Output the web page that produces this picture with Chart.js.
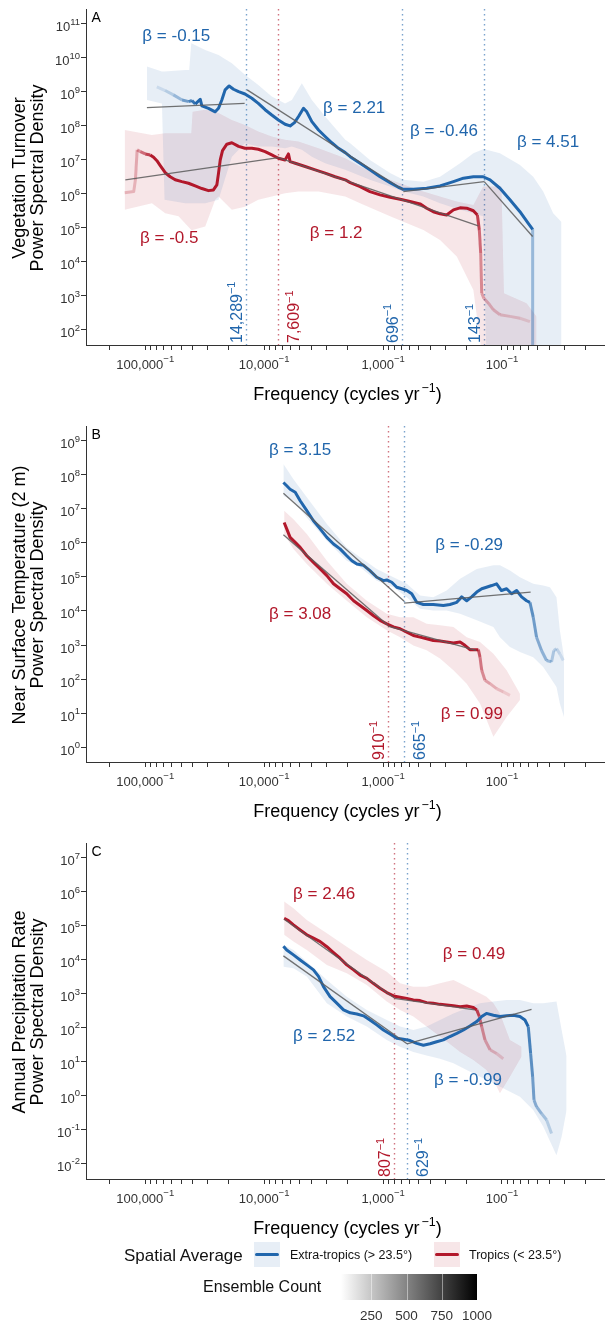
<!DOCTYPE html>
<html>
<head>
<meta charset="utf-8">
<script src="https://cdn.jsdelivr.net/npm/chart.js@4.4.1/dist/chart.umd.min.js"></script>
<style>
  body { margin: 0; background: #fff; width: 605px; height: 1322px; position: relative; overflow: hidden;
         font-family: "Liberation Sans", Arial, Helvetica, sans-serif; }
  canvas { position: absolute; left: 0; }
  .lg { position: absolute; white-space: nowrap; line-height: 1; color: #111; }
  .key { position: absolute; width: 26px; height: 25px; }
  .key i { position: absolute; left: 1px; top: 11px; width: 24px; height: 3px; border-radius: 1.5px; }
  .num { position: absolute; width: 40px; text-align: center; font-size: 13.5px; line-height: 1; color: #333; }
</style>
</head>
<body>
<canvas id="panelA" width="605" height="417" style="top:0px"></canvas>
<canvas id="panelB" width="605" height="417" style="top:417px"></canvas>
<canvas id="panelC" width="605" height="417" style="top:834px"></canvas>

<div class="lg" style="left:124px; top:1246.7px; font-size:17px">Spatial Average</div>
<div class="key" style="left:254px; top:1242px; background:rgba(33,102,172,0.11)"><i style="background:#2166ac"></i></div>
<div class="lg" style="left:290px; top:1249px; font-size:12.5px">Extra-tropics (&gt; 23.5°)</div>
<div class="key" style="left:434px; top:1242px; background:rgba(178,24,43,0.11)"><i style="background:#b2182b"></i></div>
<div class="lg" style="left:469px; top:1249px; font-size:12.5px">Tropics (&lt; 23.5°)</div>
<div class="lg" style="left:203px; top:1279.2px; font-size:16px">Ensemble Count</div>
<div id="bar" style="position:absolute; left:341px; top:1274px; width:136px; height:26px; background:linear-gradient(to right, #fff, #000)"></div>
<div id="barLabels"></div>

<script>
// ---------- shared x axis: period in years, plotted as frequency = 1 / period ----------
const xLimPeriods = [315000, 13.6];
const xTickPeriods = [200000, 100000, 90000, 80000, 70000, 60000, 50000, 40000, 30000, 20000,
  10000, 9000, 8000, 7000, 6000, 5000, 4000, 3000, 2000,
  1000, 900, 800, 700, 600, 500, 400, 300, 200,
  100, 90, 80, 70, 60, 50, 40, 30, 20];
const xLabelPeriods = [100000, 10000, 1000, 100];
const xLabelText = ["100,000", "10,000", "1,000", "100"];

// ---------- panel A: vegetation turnover ----------
const aYLim = [36, 2.75e11];
const aYExp = [2, 3, 4, 5, 6, 7, 8, 9, 10, 11];

const aBluePeriod = [80000, 68000, 58000, 49000, 43000, 40500, 38000, 34500, 33400, 29400,
  25800, 24200, 22700, 21300, 19700, 18100, 16400, 14500, 12700, 11200,
  9820, 8630, 7590, 6670, 6050, 5560, 5140, 4670, 4380, 3970,
  3490, 3070, 2700, 2370, 2080, 1890, 1560, 1290, 1060, 873,
  743, 675, 556, 430, 332, 256, 211, 174, 144, 126,
  104, 85.7, 70.6, 60.1, 55.2, 55.2];
const aBluePSD = [1.4e9, 1.1e9, 8.2e8, 5.8e8, 5.2e8, 5.6e8, 4.4e8, 6.1e8, 3.9e8, 3.3e8,
  2.6e8, 3.3e8, 5.8e8, 1.15e9, 1.5e9, 1.2e9, 1.02e9, 8.7e8, 6.5e8, 4.6e8,
  3.0e8, 2.1e8, 1.5e8, 1.12e8, 1.0e8, 1.25e8, 1.9e8, 3.3e8, 2.6e8, 1.34e8,
  7.6e7, 4.9e7, 3.2e7, 2.2e7, 1.64e7, 1.25e7, 8.0e6, 5.1e6, 3.2e6, 2.15e6,
  1.57e6, 1.37e6, 1.37e6, 1.47e6, 1.72e6, 2.3e6, 2.9e6, 3.2e6, 3.2e6, 2.6e6,
  1.47e6, 6.7e5, 3.0e5, 1.37e5, 9.1e4, 10];
const aBlueCount = [150, 250, 400, 600, 800, 900, 1000, 1000, 1000, 1000,
  1000, 1000, 1000, 1000, 1000, 1000, 1000, 1000, 1000, 1000,
  1000, 1000, 1000, 1000, 1000, 1000, 1000, 1000, 1000, 1000,
  1000, 1000, 1000, 1000, 1000, 1000, 1000, 1000, 1000, 1000,
  1000, 1000, 1000, 1000, 1000, 1000, 1000, 1000, 1000, 1000,
  1000, 1000, 1000, 1000, 1000, 400];

const aRedPeriod = [149000, 125000, 121000, 117000, 110000, 100000, 90800, 85100, 79800, 74800,
  67900, 61700, 56000, 49200, 43300, 38000, 33400, 29400, 26700, 25000,
  24200, 23400, 22400, 20600, 18700, 16400, 14500, 12700, 11200, 9820,
  8630, 7590, 6670, 6250, 6050, 5480, 4520, 3720, 3070, 2530,
  2080, 1890, 1560, 1290, 1060, 873, 719, 593, 489, 430,
  378, 332, 292, 256, 225, 198, 174, 161, 155, 151,
  148, 142, 130, 118, 104, 85.7, 70.6, 58.2];
const aRedPSD = [1.09e6, 1.17e6, 2.6e6, 1.97e7, 1.76e7, 1.5e7, 1.4e7, 1.2e7, 9.5e6, 6.8e6,
  4.2e6, 3.2e6, 2.6e6, 2.3e6, 2.06e6, 1.72e6, 1.44e6, 1.25e6, 1.31e6, 1.84e6,
  4.1e6, 1.0e7, 1.88e7, 2.9e7, 3.2e7, 2.5e7, 2.2e7, 2.2e7, 2.06e7, 1.76e7,
  1.4e7, 1.12e7, 1.0e7, 1.5e7, 8.9e6, 8.0e6, 6.4e6, 5.1e6, 4.1e6, 3.2e6,
  2.6e6, 2.15e6, 1.64e6, 1.17e6, 9.4e5, 8.0e5, 7.0e5, 6.0e5, 5.1e5, 3.8e5,
  3.0e5, 2.6e5, 2.4e5, 3.4e5, 3.9e5, 3.8e5, 3.2e5, 2.4e5, 8.7e4, 1.8e4,
  1.2e3, 8.5e2, 6.1e2, 3.9e2, 2.8e2, 2.5e2, 2.2e2, 1.76e2];
const aRedCount = [250, 250, 300, 400, 600, 800, 1000, 1000, 1000, 1000,
  1000, 1000, 1000, 1000, 1000, 1000, 1000, 1000, 1000, 1000,
  1000, 1000, 1000, 1000, 1000, 1000, 1000, 1000, 1000, 1000,
  1000, 1000, 1000, 1000, 1000, 1000, 1000, 1000, 1000, 1000,
  1000, 1000, 1000, 1000, 1000, 1000, 1000, 1000, 1000, 1000,
  1000, 1000, 1000, 1000, 1000, 1000, 1000, 1000, 800, 600,
  450, 350, 300, 280, 250, 220, 200, 150];

const aBlueRibPeriod = [96800, 72400, 68800, 46100, 42700, 41000, 31300, 24200, 18700, 14500,
  11200, 8630, 6670, 5850, 4820, 3970, 3070, 2080, 1890, 1290,
  873, 675, 458, 332, 225, 174, 144, 135, 104, 70.6,
  54.6, 45.0, 37.1, 31.6];
const aBlueRibHigh = [5.6e9, 4.0e9, 4.0e9, 4.4e9, 4.4e9, 2.7e10, 1.7e10, 1.22e10, 7.0e9, 3.2e9,
  1.6e9, 7.3e8, 4.6e8, 5.8e8, 1.8e9, 5.8e8, 1.9e8, 3.9e7, 3.1e7, 1.0e7,
  4.1e6, 2.6e6, 2.3e6, 3.2e6, 8.0e6, 1.57e7, 2.06e7, 2.0e7, 1.57e7, 7.1e6,
  3.2e6, 1.17e6, 2.7e5, 1.5e5];
const aBlueRibLow = [5.8e8, 4.6e8, 6.7e5, 5.3e5, 5.3e5, 5.3e5, 5.3e5, 6.7e5, 1.25e7, 3.1e7,
  2.5e7, 2.5e7, 2.2e7, 2.5e7, 2.0e7, 1.25e7, 8.0e6, 5.1e6, 4.5e6, 2.6e6,
  1.64e6, 1.17e6, 8.4e5, 5.3e5, 3.4e5, 2.7e5, 2.2e5, 10, 10, 10,
  10, 10, 10, 10];

const aRedRibPeriod = [149000, 87900, 67900, 52500, 41000, 40000, 31300, 25800, 24200, 18700,
  14500, 11200, 8630, 6670, 5140, 3490, 2080, 1560, 873, 458,
  332, 240, 174, 144, 101, 96.2, 62.1, 51.2];
const aRedRibHigh = [7.6e7, 5.4e7, 6.1e7, 6.1e7, 6.1e7, 2.6e8, 3.0e8, 2.6e8, 2.4e8, 1.5e8,
  1.07e8, 6.8e7, 4.9e7, 3.9e7, 3.5e7, 2.2e7, 1.12e7, 6.4e6, 2.6e6, 1.17e6,
  8.4e5, 6.0e5, 4.7e5, 1.64e6, 1.64e6, 1.2e3, 6.1e2, 2.5e2];
const aRedRibLow = [3.4e5, 5.3e5, 2.7e5, 2.2e5, 8.7e4, 8.7e4, 1.1e5, 6.7e5, 8.4e5, 3.4e5,
  4.2e5, 6.7e5, 8.4e5, 1.05e6, 1.17e6, 1.17e6, 8.4e5, 5.3e5, 2.2e5, 8.7e4,
  4.4e4, 1.44e4, 1.5e3, 10, 10, 10, 10, 10];

const aBlueFitPeriod = [[96800, 14600], [13900, 675], [675, 141], [141, 55.2]];
const aBlueFitPSD = [[3.46e8, 4.6e8], [1.15e9, 1.31e6], [1.17e6, 2.3e6], [2.3e6, 5.6e4]];
const aRedFitPeriod = [[147000, 7590], [7590, 158]];
const aRedFitPSD = [[2.6e6, 1.17e7], [1.17e7, 1.15e5]];

const aBreakPeriod = [14289, 7609, 696, 143];
const aBreakSeries = ["blue", "red", "blue", "blue"];

const aBetaText = ["β = -0.15", "β = 2.21", "β = -0.46", "β = 4.51", "β = -0.5", "β = 1.2"];
const aBetaPeriod = [54800, 1750, 307, 41, 62800, 2480];
const aBetaPSD = [4.7e10, 3.6e8, 7.6e7, 3.6e7, 5.4e4, 7.6e4];
const aBetaSeries = ["blue", "blue", "blue", "blue", "red", "red"];

// ---------- panel B: near surface temperature ----------
const bYLim = [0.363, 2.75e9];
const bYExp = [0, 1, 2, 3, 4, 5, 6, 7, 8, 9];

const bBluePeriod = [6890, 6460, 6050, 5480, 4980, 4380, 3850, 3380, 2970, 2610,
  2300, 2020, 1830, 1660, 1460, 1290, 1130, 993, 931, 845,
  767, 697, 632, 574, 521, 458, 378, 311, 274, 240,
  218, 198, 180, 163, 148, 135, 122, 111, 101, 91.4,
  83.0, 75.3, 68.4, 62.1, 58.2, 54.6, 51.2, 46.5, 42.2, 38.3,
  36.6, 34.8, 32.6, 30.5];
const bBluePSD = [6.0e7, 4.8e7, 3.8e7, 3.1e7, 1.74e7, 8.9e6, 4.5e6, 2.6e6, 1.46e6, 9.3e5,
  6.7e5, 4.2e5, 3.0e5, 2.4e5, 2.2e5, 1.54e5, 9.8e4, 7.8e4, 8.2e4, 7.0e4,
  5.0e4, 4.5e4, 4.0e4, 3.2e4, 1.8e4, 1.55e4, 1.55e4, 1.45e4, 1.55e4, 1.8e4,
  2.6e4, 2.0e4, 2.6e4, 3.6e4, 4.5e4, 5.0e4, 5.6e4, 6.3e4, 4.0e4, 4.5e4,
  3.2e4, 4.0e4, 2.6e4, 2.0e4, 1.8e4, 6.6e3, 1.7e3, 6.9e2, 3.5e2, 3.2e2,
  6.9e2, 7.8e2, 5.5e2, 3.5e2];
const bBlueCount = [1000, 1000, 1000, 1000, 1000, 1000, 1000, 1000, 1000, 1000,
  1000, 1000, 1000, 1000, 1000, 1000, 1000, 1000, 1000, 1000,
  1000, 1000, 1000, 1000, 1000, 1000, 1000, 1000, 1000, 1000,
  1000, 1000, 1000, 1000, 1000, 1000, 1000, 1000, 1000, 1000,
  1000, 1000, 1000, 1000, 1000, 700, 600, 500, 450, 400,
  300, 250, 200, 150];

const bRedPeriod = [6790, 6460, 6050, 5480, 4980, 4380, 3850, 3380, 2970, 2610,
  2300, 2020, 1770, 1560, 1370, 1210, 1060, 931, 818, 719,
  632, 556, 489, 430, 378, 332, 292, 256, 225, 205,
  186, 169, 158, 153, 148, 139, 126, 111, 97.5, 85.7];
const bRedPSD = [4.0e6, 2.6e6, 1.46e6, 1.04e6, 7.4e5, 4.2e5, 2.7e5, 1.73e5, 1.1e5, 6.3e4,
  4.5e4, 3.2e4, 2.0e4, 1.45e4, 1.03e4, 7.4e3, 5.3e3, 4.2e3, 3.4e3, 3.0e3,
  2.4e3, 1.9e3, 1.7e3, 1.53e3, 1.36e3, 1.31e3, 1.22e3, 1.14e3, 1.22e3, 9.8e2,
  7.3e2, 7.3e2, 7.3e2, 4.4e2, 1.8e2, 92, 73, 52, 42, 33];
const bRedCount = [1000, 1000, 1000, 1000, 1000, 1000, 1000, 1000, 1000, 1000,
  1000, 1000, 1000, 1000, 1000, 1000, 1000, 1000, 1000, 1000,
  1000, 1000, 1000, 1000, 1000, 1000, 1000, 1000, 1000, 1000,
  1000, 1000, 1000, 700, 550, 450, 350, 280, 220, 150];

const bBlueRibPeriod = [6890, 5670, 4380, 2970, 2020, 1560, 1130, 818, 632, 489,
  378, 292, 225, 163, 118, 104, 85.7, 70.6, 54.6, 45.0,
  39.5, 34.8, 32.6, 30.1];
const bBlueRibHigh = [2.1e8, 7.5e7, 2.2e7, 3.6e6, 7.4e5, 3.8e5, 1.73e5, 9.8e4, 6.3e4, 2.85e4,
  2.55e4, 4.0e4, 8.8e4, 1.73e5, 2.2e5, 2.2e5, 1.54e5, 9.8e4, 6.3e4, 5.6e4,
  5.0e4, 2.55e4, 2.7e3, 4.4e2];
const bBlueRibLow = [2.4e7, 1.74e7, 5.6e6, 1.17e6, 3.0e5, 1.93e5, 7.8e4, 5.0e4, 2.55e4, 1.16e4,
  1.03e4, 1.03e4, 8.3e3, 5.3e3, 3.4e3, 1.7e3, 8.7e2, 6.2e2, 4.4e2, 2.25e2,
  1.15e2, 58, 19, 7.7];

const bRedRibPeriod = [6790, 5670, 4380, 2970, 2020, 1370, 931, 719, 556, 430,
  332, 256, 198, 153, 118, 91.4, 70.6];
const bRedRibHigh = [8.9e6, 5.0e6, 1.83e6, 3.0e5, 6.3e4, 2.0e4, 8.3e3, 6.6e3, 6.6e3, 4.2e3,
  3.8e3, 3.4e3, 1.7e3, 1.22e3, 5.5e2, 1.8e2, 37];
const bRedRibLow = [1.83e6, 6.7e5, 2.4e5, 6.3e4, 2.0e4, 6.6e3, 2.7e3, 1.7e3, 9.7e2, 7.0e2,
  4.0e2, 1.8e2, 73, 19, 2.0, 7.7, 24];

const bBlueFitPeriod = [[6890, 665], [665, 57.4]];
const bBlueFitPSD = [[2.9e7, 1.94e4], [1.7e4, 3.6e4]];
const bRedFitPeriod = [[6890, 910], [910, 165]];
const bRedFitPSD = [[1.75e6, 3.8e3], [3.6e3, 6.9e2]];

const bBreakPeriod = [910, 665];
const bBreakSeries = ["red", "blue"];

const bBetaText = ["β = 3.15", "β = -0.29", "β = 3.08", "β = 0.99"];
const bBetaPeriod = [4980, 189, 4980, 179];
const bBetaPSD = [5.8e8, 9.5e5, 8.5e3, 9.9];
const bBetaSeries = ["blue", "blue", "red", "red"];

// ---------- panel C: annual precipitation rate ----------
const cYLim = [0.0034, 2.75e7];
const cYExp = [-2, -1, 0, 1, 2, 3, 4, 5, 6, 7];

const cBluePeriod = [6890, 6460, 5670, 4980, 4380, 3850, 3490, 3170, 2790, 2450,
  2150, 1890, 1660, 1460, 1290, 1130, 993, 873, 767, 675,
  593, 521, 458, 403, 354, 311, 274, 240, 211, 186,
  163, 148, 135, 118, 104, 91.4, 80.4, 70.6, 64.1, 60.1,
  57.4, 55.2, 53.8, 51.2, 46.5, 42.2, 38.3];
const cBluePSD = [2.5e4, 1.93e4, 1.38e4, 9.8e3, 7.0e3, 5.0e3, 3.2e3, 1.6e3, 8.1e2, 5.2e2,
  3.3e2, 2.7e2, 2.5e2, 2.2e2, 1.66e2, 1.19e2, 84, 64, 48, 45,
  41, 34, 30, 33, 38, 43, 54, 67, 84, 1.1e2,
  1.49e2, 2.1e2, 2.6e2, 2.3e2, 2.1e2, 2.2e2, 2.3e2, 2.1e2, 1.66e2, 1.06e2,
  17, 3.5, 0.73, 0.46, 0.29, 0.19, 0.075];
const cBlueCount = [1000, 1000, 1000, 1000, 1000, 1000, 1000, 1000, 1000, 1000,
  1000, 1000, 1000, 1000, 1000, 1000, 1000, 1000, 1000, 1000,
  1000, 1000, 1000, 1000, 1000, 1000, 1000, 1000, 1000, 1000,
  1000, 1000, 1000, 1000, 1000, 1000, 1000, 1000, 1000, 1000,
  800, 700, 600, 500, 450, 350, 250];

const cRedPeriod = [6790, 6250, 5670, 4980, 4380, 3850, 3380, 2970, 2610, 2300,
  2020, 1770, 1560, 1370, 1210, 1060, 931, 818, 719, 632,
  556, 489, 430, 378, 332, 292, 256, 225, 198, 174,
  163, 155, 148, 139, 126, 111, 97.5];
const cRedPSD = [1.66e5, 1.42e5, 1.06e5, 7.5e4, 5.4e4, 4.3e4, 3.4e4, 2.4e4, 1.61e4, 1.1e4,
  7.0e3, 5.0e3, 3.5e3, 2.8e3, 2.0e3, 1.43e3, 1.07e3, 8.5e2, 7.8e2, 7.2e2,
  6.5e2, 6.2e2, 5.4e2, 5.2e2, 4.8e2, 4.6e2, 4.4e2, 4.1e2, 4.3e2, 3.9e2,
  3.3e2, 2.1e2, 1.06e2, 43, 22, 17, 12];
const cRedCount = [1000, 1000, 1000, 1000, 1000, 1000, 1000, 1000, 1000, 1000,
  1000, 1000, 1000, 1000, 1000, 1000, 1000, 1000, 1000, 1000,
  1000, 1000, 1000, 1000, 1000, 1000, 1000, 1000, 1000, 1000,
  1000, 800, 600, 450, 350, 250, 180];

const cBlueRibPeriod = [6890, 5670, 4380, 2970, 2020, 1370, 931, 719, 556, 430,
  332, 256, 198, 153, 118, 91.4, 70.6, 54.6, 45.0, 34.8,
  31.5, 28.6];
const cBlueRibHigh = [2.7e4, 1.93e4, 8.7e3, 2.5e3, 8.1e2, 3.3e2, 1.66e2, 1.06e2, 84, 1.06e2,
  1.66e2, 2.6e2, 3.7e2, 5.2e2, 5.8e2, 6.5e2, 6.5e2, 5.2e2, 5.2e2, 5.8e2,
  84, 14];
const cBlueRibLow = [6.2e3, 5.6e3, 3.2e3, 5.2e2, 2.1e2, 1.06e2, 43, 27, 19, 15,
  12, 8.8, 5.6, 3.5, 2.25, 1.43, 0.91, 0.37, 0.12, 0.017,
  0.060, 0.37];

const cRedRibPeriod = [6790, 5670, 4380, 2970, 2020, 1370, 931, 719, 556, 430,
  332, 256, 225, 174, 135, 118, 104, 85.7, 68.4];
const cRedRibHigh = [5.2e5, 3.3e5, 1.48e5, 6.0e4, 2.4e4, 9.8e3, 4.4e3, 2.0e3, 1.6e3, 1.6e3,
  2.0e3, 2.5e3, 2.0e3, 1.28e3, 8.1e2, 5.2e2, 2.6e2, 43, 27];
const cRedRibLow = [5.4e4, 3.4e4, 1.93e4, 7.0e3, 4.0e3, 1.8e3, 5.8e2, 3.3e2, 2.1e2, 1.06e2,
  54, 27, 19, 11, 5.6, 2.8, 1.14, 3.5, 14];

const cBlueFitPeriod = [[6890, 629], [629, 56.4]];
const cBlueFitPSD = [[1.29e4, 33], [33, 3.4e2]];
const cRedFitPeriod = [[6790, 807], [807, 169]];
const cRedFitPSD = [[1.55e5, 7.5e2], [7.2e2, 3.3e2]];

const cBreakPeriod = [807, 629];
const cBreakSeries = ["red", "blue"];

const cBetaText = ["β = 2.46", "β = 0.49", "β = 2.52", "β = -0.99"];
const cBetaPeriod = [3130, 172, 3130, 193];
const cBetaPSD = [9.3e5, 1.58e4, 60, 3.0];
const cBetaSeries = ["red", "red", "blue", "blue"];

// ---------- legend colour bar ----------
const countTicks = [250, 500, 750, 1000];

// ---------- drawing ----------
const HUE = { blue: "33,102,172", red: "178,24,43" };
const FONT = '"Liberation Sans", Arial, Helvetica, sans-serif';
const AXIS = "#333";

function rgba(rgb, a) { return "rgba(" + rgb + "," + a + ")"; }
function pts(periods, values) { return periods.map((p, i) => ({ x: 1 / p, y: values[i] })); }

function lineSet(periods, values, counts, rgb, order) {
  return {
    data: pts(periods, values),
    borderColor: rgba(rgb, 1),
    borderWidth: 3,
    borderJoinStyle: "round",
    pointRadius: 0,
    order: order,
    segment: {
      borderColor: c => rgba(rgb, Math.max(0.15, Math.min(counts[c.p0DataIndex], counts[c.p1DataIndex]) / 1000))
    }
  };
}

function ribbonSets(periods, low, high, rgb) {
  return [
    { data: pts(periods, high), borderWidth: 0, pointRadius: 0, fill: "+1", backgroundColor: rgba(rgb, 0.11), order: 3 },
    { data: pts(periods, low), borderWidth: 0, pointRadius: 0, fill: false, order: 3 }
  ];
}

function fitSets(periodPairs, valuePairs) {
  return periodPairs.map((pp, i) => ({
    data: pts(pp, valuePairs[i]),
    borderColor: "rgba(90,90,90,0.85)",
    borderWidth: 1.3,
    pointRadius: 0,
    order: 0
  }));
}

// base text followed by a raised superscript (and optional tail); returns width
function drawSup(ctx, base, sup, tail, x, y, size, supSize, rise, gap) {
  ctx.font = size + "px " + FONT;
  ctx.fillText(base, x, y);
  let w = ctx.measureText(base).width + (gap || 0);
  ctx.font = supSize + "px " + FONT;
  ctx.fillText(sup, x + w, y - rise);
  w += ctx.measureText(sup).width;
  if (tail) {
    ctx.font = size + "px " + FONT;
    ctx.fillText(tail, x + w, y);
    w += ctx.measureText(tail).width;
  }
  return w;
}
function supWidth(ctx, base, sup, tail, size, supSize, gap) {
  ctx.font = size + "px " + FONT;
  const w = ctx.measureText(base + (tail || "")).width + (gap || 0);
  ctx.font = supSize + "px " + FONT;
  return w + ctx.measureText(sup).width;
}

function panelText(cfg) {
  return {
    id: "panelText",
    beforeDatasetsDraw(chart) {
      const { ctx, chartArea: a, scales: { x } } = chart;
      ctx.save();
      ctx.lineWidth = 1.4;
      ctx.setLineDash([1.4, 3.6]);
      cfg.breaks.forEach((p, i) => {
        const px = Math.round(x.getPixelForValue(1 / p)) + 0.5;
        ctx.strokeStyle = rgba(HUE[cfg.breakSeries[i]], 0.6);
        ctx.beginPath();
        ctx.moveTo(px, a.top);
        ctx.lineTo(px, a.bottom);
        ctx.stroke();
      });
      ctx.restore();
    },
    afterDraw(chart) {
      const { ctx, chartArea: a, scales: { x, y } } = chart;
      ctx.save();
      ctx.textAlign = "left";
      ctx.textBaseline = "alphabetic";

      // y tick labels 10^n
      ctx.fillStyle = AXIS;
      cfg.yExp.forEach(e => {
        const py = y.getPixelForValue(Math.pow(10, e));
        const sup = String(e);
        const w = supWidth(ctx, "10", sup, "", 13, 9.5);
        drawSup(ctx, "10", sup, "", a.left - 6 - w, py + 7.5, 13, 9.5, 6.5);
      });

      // x tick labels n^-1
      xLabelPeriods.forEach((p, i) => {
        const px = x.getPixelForValue(1 / p);
        const w = supWidth(ctx, xLabelText[i], "\u22121", "", 13, 9.5);
        drawSup(ctx, xLabelText[i], "\u22121", "", px - w / 2, a.bottom + 24, 13, 9.5, 7.5);
      });

      // axis titles
      ctx.fillStyle = "#000";
      const tw = supWidth(ctx, "Frequency (cycles yr", "\u22121", ")", 18, 12.5, 2);
      drawSup(ctx, "Frequency (cycles yr", "\u22121", ")", (a.left + a.right) / 2 + 2 - tw / 2, a.bottom + 54.5, 18, 12.5, 8, 2);

      ctx.save();
      ctx.translate(0, (a.top + a.bottom) / 2 + 1);
      ctx.rotate(-Math.PI / 2);
      ctx.textAlign = "center";
      ctx.font = "18px " + FONT;
      ctx.fillText(cfg.yTitle[0], 0, 24.5);
      ctx.fillText(cfg.yTitle[1], 0, 43);
      ctx.restore();

      // panel letter
      ctx.font = "14px " + FONT;
      ctx.fillText(cfg.letter, a.left + 5.5, a.top + 12.7);

      // slope labels
      ctx.textAlign = "center";
      ctx.font = "17px " + FONT;
      cfg.betaText.forEach((t, i) => {
        ctx.fillStyle = rgba(HUE[cfg.betaSeries[i]], 1);
        ctx.fillText(t, x.getPixelForValue(1 / cfg.betaPeriod[i]), y.getPixelForValue(cfg.betaPSD[i]) + 6);
      });

      // breakpoint labels, rotated
      ctx.textAlign = "left";
      cfg.breaks.forEach((p, i) => {
        const px = x.getPixelForValue(1 / p);
        const bx = cfg.breakSide[i] === "left" ? px - 4 : px + 21;
        ctx.save();
        ctx.translate(bx, a.bottom - 2);
        ctx.rotate(-Math.PI / 2);
        ctx.fillStyle = rgba(HUE[cfg.breakSeries[i]], 1);
        drawSup(ctx, p.toLocaleString("en-US"), "\u22121", "", 0, 0, 16, 11, 6.5);
        ctx.restore();
      });
      ctx.restore();
    }
  };
}

function makePanel(cfg) {
  const datasets = [
    ...ribbonSets(cfg.blueRib[0], cfg.blueRib[1], cfg.blueRib[2], HUE.blue),
    ...ribbonSets(cfg.redRib[0], cfg.redRib[1], cfg.redRib[2], HUE.red),
    lineSet(cfg.blue[0], cfg.blue[1], cfg.blue[2], HUE.blue, 1),
    lineSet(cfg.red[0], cfg.red[1], cfg.red[2], HUE.red, 2),
    ...fitSets(cfg.blueFit[0], cfg.blueFit[1]),
    ...fitSets(cfg.redFit[0], cfg.redFit[1])
  ];
  const axisGrid = { drawOnChartArea: false, drawTicks: true, tickLength: 5, color: AXIS, lineWidth: 1 };
  const options = {
    responsive: false,
    animation: false,
    events: [],
    layout: { padding: { top: 9, left: 0, right: 0, bottom: 0 } },
    plugins: { legend: { display: false }, tooltip: { enabled: false } },
    scales: {
      x: {
        type: "logarithmic",
        bounds: "data",
        min: 1 / xLimPeriods[0],
        max: 1 / xLimPeriods[1],
        afterBuildTicks: s => { s.ticks = xTickPeriods.map(p => ({ value: 1 / p })); },
        afterFit: s => { s.height = 72; },
        ticks: { display: false },
        grid: axisGrid,
        border: { display: true, color: AXIS, width: 1 }
      },
      y: {
        type: "logarithmic",
        bounds: "data",
        min: cfg.yLim[0],
        max: cfg.yLim[1],
        afterBuildTicks: s => { s.ticks = cfg.yExp.map(e => ({ value: Math.pow(10, e) })); },
        afterFit: s => { s.width = 86; },
        ticks: { display: false },
        grid: axisGrid,
        border: { display: true, color: AXIS, width: 1 }
      }
    }
  };
  return new Chart(document.getElementById(cfg.id), {
    type: "line",
    data: { datasets },
    options,
    plugins: [panelText(cfg)]
  });
}

makePanel({
  id: "panelA", letter: "A",
  yTitle: ["Vegetation Turnover", "Power Spectral Density"],
  yLim: aYLim, yExp: aYExp,
  blue: [aBluePeriod, aBluePSD, aBlueCount],
  red: [aRedPeriod, aRedPSD, aRedCount],
  blueRib: [aBlueRibPeriod, aBlueRibLow, aBlueRibHigh],
  redRib: [aRedRibPeriod, aRedRibLow, aRedRibHigh],
  blueFit: [aBlueFitPeriod, aBlueFitPSD],
  redFit: [aRedFitPeriod, aRedFitPSD],
  breaks: aBreakPeriod, breakSeries: aBreakSeries, breakSide: ["left", "right", "left", "left"],
  betaText: aBetaText, betaPeriod: aBetaPeriod, betaPSD: aBetaPSD, betaSeries: aBetaSeries
});

makePanel({
  id: "panelB", letter: "B",
  yTitle: ["Near Surface Temperature (2 m)", "Power Spectral Density"],
  yLim: bYLim, yExp: bYExp,
  blue: [bBluePeriod, bBluePSD, bBlueCount],
  red: [bRedPeriod, bRedPSD, bRedCount],
  blueRib: [bBlueRibPeriod, bBlueRibLow, bBlueRibHigh],
  redRib: [bRedRibPeriod, bRedRibLow, bRedRibHigh],
  blueFit: [bBlueFitPeriod, bBlueFitPSD],
  redFit: [bRedFitPeriod, bRedFitPSD],
  breaks: bBreakPeriod, breakSeries: bBreakSeries, breakSide: ["left", "right"],
  betaText: bBetaText, betaPeriod: bBetaPeriod, betaPSD: bBetaPSD, betaSeries: bBetaSeries
});

makePanel({
  id: "panelC", letter: "C",
  yTitle: ["Annual Precipitation Rate", "Power Spectral Density"],
  yLim: cYLim, yExp: cYExp,
  blue: [cBluePeriod, cBluePSD, cBlueCount],
  red: [cRedPeriod, cRedPSD, cRedCount],
  blueRib: [cBlueRibPeriod, cBlueRibLow, cBlueRibHigh],
  redRib: [cRedRibPeriod, cRedRibLow, cRedRibHigh],
  blueFit: [cBlueFitPeriod, cBlueFitPSD],
  redFit: [cRedFitPeriod, cRedFitPSD],
  breaks: cBreakPeriod, breakSeries: cBreakSeries, breakSide: ["left", "right"],
  betaText: cBetaText, betaPeriod: cBetaPeriod, betaPSD: cBetaPSD, betaSeries: cBetaSeries
});

// colour bar labels and ticks (bar spans counts ~35..1000 over 341..477 px)
const barLeft = 341, barWidth = 136, barMin = 35, barMax = 1000;
const holder = document.getElementById("barLabels");
countTicks.forEach(v => {
  const cx = barLeft + (v - barMin) / (barMax - barMin) * barWidth;
  const lab = document.createElement("div");
  lab.className = "num";
  lab.style.left = (cx - 20) + "px";
  lab.style.top = "1309.4px";
  lab.textContent = String(v);
  holder.appendChild(lab);
  if (v < barMax) {
    const tk = document.createElement("div");
    tk.style.cssText = "position:absolute;width:1px;height:26px;background:rgba(255,255,255,0.45);left:" + Math.round(cx) + "px;top:1274px";
    holder.appendChild(tk);
  }
});
</script>
</body>
</html>
